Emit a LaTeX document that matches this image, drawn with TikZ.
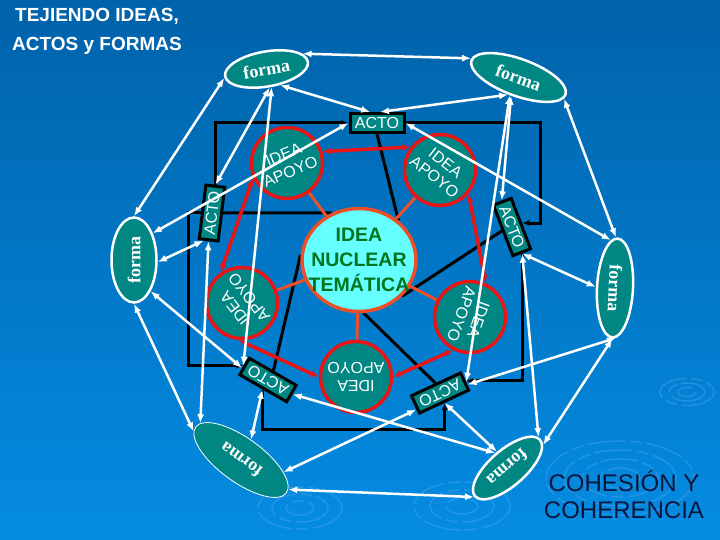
\documentclass[tikz,border=0pt]{standalone}
\usepackage{fontspec}
\setmainfont{Liberation Sans}
\newfontfamily\formafont{Liberation Serif}
\usepackage{tikz}
\usetikzlibrary{shapes.geometric,arrows.meta}
\definecolor{fondoarriba}{RGB}{0,98,170}
\definecolor{fondoabajo}{RGB}{4,140,226}
\definecolor{verdeazul}{RGB}{0,135,132}
\definecolor{celeste}{RGB}{102,255,255}
\definecolor{rojo}{RGB}{235,20,20}
\definecolor{naranja}{RGB}{235,80,40}
\definecolor{verde}{RGB}{0,115,30}
\definecolor{marino}{RGB}{10,22,60}
\definecolor{onda}{RGB}{70,165,240}
\pgfdeclarelayer{fondo}
\pgfdeclarelayer{enlaces}
\pgfsetlayers{fondo,enlaces,main}

\begin{document}
\begin{tikzpicture}
[x=1pt, y=-1pt, every node/.style={inner sep=0pt},
 >={Latex[length=9pt,width=7pt]},
 acto/.style={rectangle, minimum width=54pt, minimum height=19pt, fill=verdeazul, draw=black, line width=3pt, text=white, font=\fontsize{16}{18}\selectfont},
 apoyo/.style={circle, minimum size=71pt, fill=verdeazul, draw=rojo, line width=3.5pt, text=white, align=center, font=\fontsize{16}{18}\selectfont},
 forma/.style={ellipse, fill=verdeazul, draw=white, line width=2.5pt, text=white, font=\formafont\bfseries\fontsize{18}{20}\selectfont},
 flecha/.style={line width=2.5pt, white, <->},
 marco/.style={line width=3pt, black, ->, >={Latex[length=7pt,width=6pt]}},
 enlace/.style={line width=3.5pt, rojo, <->, >={Latex[length=8pt,width=7pt]}},
 onda/.style={draw=onda, line width=1.5pt, opacity=0.45, dash pattern=on 38pt off 5pt on 12pt off 4pt}]
\useasboundingbox (0,0) rectangle (720,540);
\begin{pgfonlayer}{fondo}
\shade [top color=fondoarriba, middle color=fondoarriba!92!fondoabajo, bottom color=fondoabajo] (0,0) rectangle (720,540);
\foreach \a/\b in {9/4.5, 18/9, 27/13.5} \draw [onda] (687,392) ellipse ({\a} and {\b});
\foreach \a/\b in {20/10, 38/19, 56/28, 74/37} \draw [onda] (620,478) ellipse ({\a} and {\b});
\foreach \a/\b in {16/8, 32/16, 48/24} \draw [onda] (462,506) ellipse ({\a} and {\b});
\foreach \a/\b in {14/7, 28/14, 42/21} \draw [onda] (300,508) ellipse ({\a} and {\b});
\end{pgfonlayer}
\node (titulo) [align=center, text=white, font=\bfseries\fontsize{19}{29}\selectfont] at (97,31) {TEJIENDO IDEAS,\\ACTOS y FORMAS};
\node (cohesion) [align=center, text=marino, font=\fontsize{24}{27}\selectfont] at (624,495) {COHESIÓN Y\\COHERENCIA};
\node (nucleo) [ellipse, minimum width=114pt, minimum height=103pt, inner xsep=-15pt, fill=celeste, draw=naranja, line width=3.5pt, text=verde, align=center, font=\bfseries\fontsize{19.5}{25}\selectfont] at (359,260) {IDEA\\NUCLEAR\\TEMÁTICA};
\node (apoyo1) [apoyo, rotate=22] at (287,163) {IDEA\\APOYO};
\node (apoyo2) [apoyo, rotate=-38] at (440,170) {IDEA\\APOYO};
\node (apoyo3) [apoyo, rotate=-110] at (470,317) {IDEA\\APOYO};
\node (apoyo4) [apoyo, rotate=180] at (356,377) {IDEA\\APOYO};
\node (apoyo5) [apoyo, rotate=128] at (242,303) {IDEA\\APOYO};
\node (acto1) [acto] at (377,123) {ACTO};
\node (acto2) [acto, rotate=-69] at (512,227) {ACTO};
\node (acto3) [acto, rotate=205] at (440,393) {ACTO};
\node (acto4) [acto, rotate=150] at (268,380) {ACTO};
\node (acto5) [acto, rotate=83] at (212,213) {ACTO};
\node (forma1) [forma, minimum width=84pt, minimum height=35pt, rotate=10] at (266.5,69) {forma};
\node (forma2) [forma, minimum width=100pt, minimum height=37pt, rotate=-20] at (518.5,77.5) {forma};
\node (forma3) [forma, minimum width=99pt, minimum height=36pt, rotate=-93] at (615,288) {forma};
\node (forma4) [forma, minimum width=86pt, minimum height=36pt, rotate=-139] at (507.5,468) {forma};
\node (forma5) [forma, minimum width=112pt, minimum height=44pt, line width=0.8pt, rotate=144] at (241,460) {forma};
\node (forma6) [forma, minimum width=85pt, minimum height=45pt, rotate=90] at (134,260) {forma};
\begin{pgfonlayer}{enlaces}
\draw [marco] (acto5.east) |- (acto1.west);
\draw [marco] (acto1.east) -- ++(135,0) |- (acto2.north);
\draw [marco] (acto2.east) |- (acto3.west);
\draw [marco] (acto4.north) -- ++(0,40) -| (acto3.north);
\draw [marco] (acto5.center) -- ++(-24,0) |- (acto4.east);
\draw [line width=3pt] (acto5.center) -- (nucleo.120);
\draw [line width=3pt] (acto1.south) -- (nucleo.45);
\draw [line width=3pt] (acto2.south) -- (nucleo.-40);
\draw [line width=3pt] (acto3.south) -- (nucleo.-85);
\draw [line width=3pt] (acto4.south) -- (nucleo.175);
\draw [line width=3pt, naranja] (apoyo1) -- (nucleo);
\draw [line width=3pt, naranja] (apoyo2) -- (nucleo);
\draw [line width=3pt, naranja] (apoyo3) -- (nucleo);
\draw [line width=3pt, naranja] (apoyo4) -- (nucleo);
\draw [line width=3pt, naranja] (apoyo5) -- (nucleo);
\draw [enlace] (apoyo1.-4) -- (apoyo2.180);
\draw [enlace] (apoyo1.182) -- (apoyo5.-3);
\draw [enlace] (apoyo5.137) -- (apoyo4.0);
\draw [enlace] (apoyo4.180) -- (apoyo3.-7);
\draw [enlace] (apoyo3.175) -- (apoyo2.-2);
\end{pgfonlayer}
\draw [flecha] (forma1.182) -- (forma6.0);
\draw [flecha] (forma1.-90) -- (acto5.east);
\draw [flecha] (forma1.-84) -- (acto4.east);
\draw [flecha] (forma1.13) -- (forma2.178);
\draw [flecha] (forma1.-60) -- (acto1.122);
\draw [flecha] (forma2.-101) -- (acto1.75);
\draw [flecha] (forma2.-92) -- (acto2.west);
\draw [flecha] (forma2.-96) -- (acto3.178);
\draw [flecha] (forma2.-5) -- (forma3.182);
\draw [flecha] (acto1.east) -- (forma3.188);
\draw [flecha] (acto2.east) -- (forma3.-90);
\draw [flecha] (acto2.east) -- (forma4.184);
\draw [flecha] (forma3.0) -- (forma4.172);
\draw [flecha] (forma3.4) -- (acto3.172);
\draw [flecha] (forma4.-98) -- (acto3.north);
\draw [flecha] (forma4.-92) -- (acto4.west);
\draw [flecha] (forma5.-160) -- (acto3.10);
\draw [flecha] (forma5.184) -- (forma4.0);
\draw [flecha] (forma5.-80) -- (acto4.north);
\draw [flecha] (forma6.180) -- (forma5.5);
\draw [flecha] (forma6.208) -- (acto4.5);
\draw [flecha] (acto5.west) -- (forma5.-6);
\draw [flecha] (forma6.-95) -- (acto5.170);
\draw [flecha] (forma6.-35) -- (acto1.west);
\end{tikzpicture}
\end{document}
